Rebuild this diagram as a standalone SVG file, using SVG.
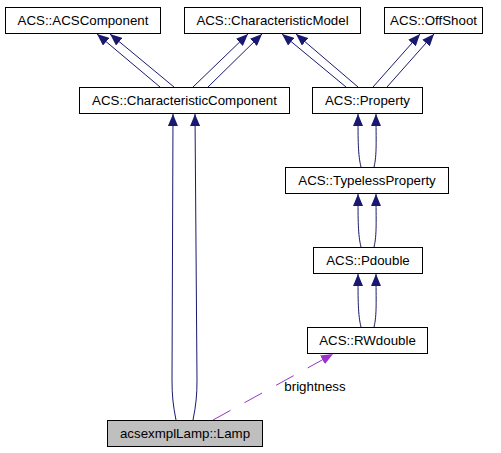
<svg xmlns="http://www.w3.org/2000/svg" width="501" height="453" viewBox="0 0 501 453">
<style>
.box{fill:#ffffff;stroke:#000000;stroke-width:1}
.sel{fill:#bfbfbf;stroke:#000000;stroke-width:1}
text{font-family:"Liberation Sans",Arial,Helvetica,sans-serif;font-size:13.3px;fill:#000000;text-anchor:middle}
.e{fill:none;stroke:#191970;stroke-width:1;marker-end:url(#ah)}
.u{fill:none;stroke:#9a32cd;stroke-width:1;stroke-dasharray:20,16;marker-end:url(#ap)}
</style>
<defs>
<marker id="ah" viewBox="0 0 12 10" refX="12" refY="5" markerWidth="12" markerHeight="10" markerUnits="userSpaceOnUse" orient="auto">
<path d="M0,0 L12,5 L0,10 z" fill="#191970"/>
</marker>
<marker id="ap" viewBox="0 0 12 10" refX="12" refY="5" markerWidth="12" markerHeight="10" markerUnits="userSpaceOnUse" orient="auto">
<path d="M0,0 L12,5 L0,10 z" fill="#9a32cd"/>
</marker>
</defs>
<rect width="501" height="453" fill="#ffffff"/>
<g id="connectors">
<path class="e" d="M160,87 L97,34"/>
<path class="e" d="M174,87 L110,34"/>
<path class="e" d="M193,87 L248,34"/>
<path class="e" d="M208,87 L262,34"/>
<path class="e" d="M346,87 L282,34"/>
<path class="e" d="M358,87 L296,34"/>
<path class="e" d="M373,87 L420,34"/>
<path class="e" d="M387,87 L434,34"/>
<path class="e" d="M361,167 C358,155 358,140 358,114"/>
<path class="e" d="M374,167 C377,155 376,140 376,114"/>
<path class="e" d="M361,247 C358,235 358,220 358,194"/>
<path class="e" d="M374,247 C377,235 376,220 376,194"/>
<path class="e" d="M361,327 C358,315 358,300 358,274"/>
<path class="e" d="M374,327 C377,315 376,300 376,274"/>
<path class="e" d="M176,420 C173,405 172,395 172,380 L173,114"/>
<path class="e" d="M193,420 C196,405 197,395 197,380 L195,114"/>
<path class="u" d="M213,420 L333,354"/>
<text x="315" y="391">brightness</text>
</g>
<g id="ACSComponent"><rect class="box" x="5.5" y="7.5" width="155" height="26"/><text x="83" y="25">ACS::ACSComponent</text></g>
<g id="CharacteristicModel"><rect class="box" x="184.5" y="7.5" width="176" height="26"/><text x="272.5" y="25">ACS::CharacteristicModel</text></g>
<g id="OffShoot"><rect class="box" x="384.5" y="7.5" width="98" height="26"/><text x="433.5" y="25">ACS::OffShoot</text></g>
<g id="CharacteristicComponent"><rect class="box" x="79.5" y="87.5" width="210" height="26"/><text x="184.5" y="105">ACS::CharacteristicComponent</text></g>
<g id="Property"><rect class="box" x="312.5" y="87.5" width="110" height="26"/><text x="367.5" y="105">ACS::Property</text></g>
<g id="TypelessProperty"><rect class="box" x="285.5" y="167.5" width="163" height="26"/><text x="367" y="185">ACS::TypelessProperty</text></g>
<g id="Pdouble"><rect class="box" x="313.5" y="247.5" width="109" height="26"/><text x="368" y="265">ACS::Pdouble</text></g>
<g id="RWdouble"><rect class="box" x="307.5" y="327.5" width="120" height="26"/><text x="367.5" y="345">ACS::RWdouble</text></g>
<g id="Lamp"><rect class="sel" x="107.5" y="420.5" width="155" height="26"/><text x="185" y="438">acsexmplLamp::Lamp</text></g>
</svg>
